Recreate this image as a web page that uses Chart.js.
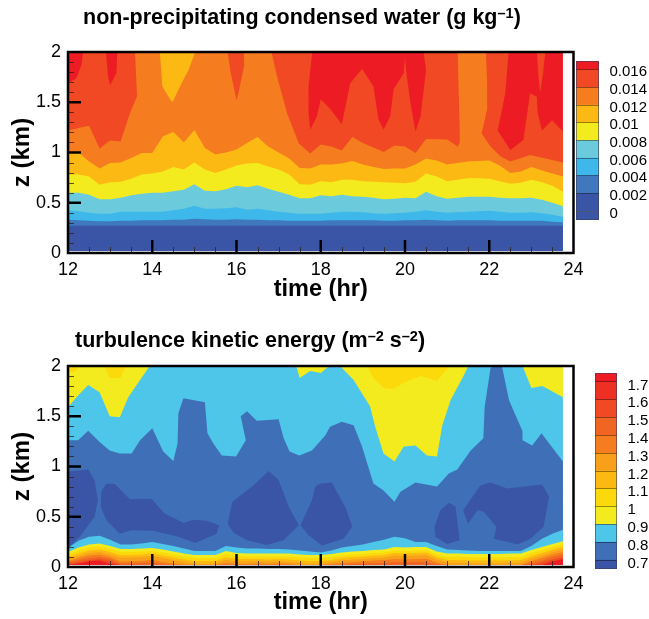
<!DOCTYPE html>
<html>
<head>
<meta charset="utf-8">
<script src="https://cdn.jsdelivr.net/npm/chart.js@4"></script>
<style>
  body { margin: 0; background: #fff; }
  canvas { position: absolute; }
</style>
</head>
<body>
<canvas id="qnChart" style="left:0;top:0"></canvas>
<canvas id="qnBar" style="left:560px;top:50px"></canvas>
<canvas id="tkeChart" style="left:0;top:310px"></canvas>
<canvas id="tkeBar" style="left:580px;top:362px"></canvas>
<script>
// output times, every 15 min
const times = [12,12.25,12.5,12.75,13,13.25,13.5,13.75,14,14.25,14.5,14.75,15,15.25,15.5,15.75,16,16.25,16.5,16.75,17,17.25,17.5,17.75,18,18.25,18.5,18.75,19,19.25,19.5,19.75,20,20.25,20.5,20.75,21,21.25,21.5,21.75,22,22.25,22.5,22.75,23,23.25,23.5,23.75];
const fullTimes = [12, 23.75];
const fullTop = [2, 2];
const baseZ = 0.02;

// condensed water: contour heights (km) per level
const qn002 = [.27,.27,.27,.27,.27,.27,.27,.27,.27,.27,.27,.27,.27,.27,.27,.27,.27,.27,.27,.27,.27,.27,.27,.27,.27,.27,.27,.27,.27,.27,.27,.27,.27,.27,.27,.27,.27,.27,.27,.27,.27,.27,.27,.27,.27,.27,.27,.27];
const qn004 = [.33,.325,.32,.315,.315,.32,.32,.325,.325,.325,.33,.33,.34,.335,.33,.33,.335,.33,.33,.325,.325,.32,.32,.32,.32,.325,.325,.325,.325,.325,.32,.32,.325,.325,.33,.325,.32,.325,.325,.325,.325,.32,.32,.32,.32,.32,.31,.305];
const qn006 = [.425,.415,.40,.39,.39,.41,.41,.41,.41,.41,.425,.44,.47,.44,.44,.445,.455,.43,.44,.425,.41,.40,.39,.39,.39,.40,.41,.41,.405,.395,.39,.395,.40,.41,.425,.41,.40,.405,.41,.415,.42,.41,.40,.40,.405,.395,.38,.36];
const qn008 = [.60,.60,.58,.535,.535,.55,.575,.59,.60,.60,.615,.63,.685,.62,.615,.635,.67,.655,.675,.64,.61,.58,.545,.545,.575,.565,.58,.565,.56,.55,.535,.54,.55,.545,.61,.565,.54,.55,.56,.56,.56,.55,.545,.545,.55,.53,.50,.465];
const qn010 = [.78,.78,.76,.68,.705,.71,.74,.78,.79,.81,.855,.83,.90,.83,.795,.83,.87,.89,.895,.86,.83,.78,.685,.68,.715,.705,.73,.73,.715,.71,.705,.70,.695,.71,.79,.76,.715,.73,.745,.745,.74,.715,.69,.70,.73,.705,.67,.61];
const qn012 = [.995,1,.91,.84,.895,.90,.945,.995,.995,1.16,1.205,1.10,1.225,1.045,.98,1,1.03,1.095,1.155,1.06,1,.94,.845,.84,.88,.88,.89,.915,.88,.855,.835,.84,.84,.88,.94,.92,.88,.895,.91,.915,.92,.87,.795,.81,.855,.82,.79,.76];
const qn014Times = [12,12.25,12.5,12.75,13,13.25,13.47,13.64,13.59,15.79,15.85,16,16.06,16.19,16.18,16.83,16.96,17.2,17.48,17.75,18,18.25,18.5,18.75,19,19.5,19.75,20,20.25,20.5,21,21.25,21.3,21.3,21.25,21.92,21.95,21.95,21.82,22.03,22.27,22.5,22.97,23.75];
const qn014 = [1.22,1.245,1.265,1.04,1.12,1.11,1.39,1.56,2,2,1.82,1.52,1.62,1.88,2,2,1.76,1.39,1.09,.99,1.08,1.06,1.02,1.155,1.095,1.005,1.07,1.06,.995,1.135,1.13,1.06,1.1,1.2,2,2,1.7,1.43,1.19,1.06,.96,.91,.975,.90];
const qn016Times = [12,12.2,12.32,12.36,12.9,12.95,13,13.15,13.17,17.8,17.71,17.71,17.75,17.91,18,18.23,18.5,18.7,18.98,19.25,19.37,19.49,19.65,19.73,19.97,20,20.03,20.13,20.25,20.37,20.5,20.44,22.46,22.38,22.27,22.2,22.5,22.81,22.97,23.13,23.15,23.25,23.49,23.75];
const qn016 = [1.69,1.74,1.87,2,2,1.76,1.67,1.79,2,2,1.66,1.39,1.23,1.36,1.53,1.43,1.28,1.69,1.83,1.66,1.33,1.23,1.36,1.63,1.79,1.95,1.8,1.49,1.21,1.36,1.82,2,2,1.59,1.36,1.22,1.025,1.125,1.59,1.555,1.39,1.22,1.32,1.21];
// pockets hanging from the top of the domain
const qnNotchTimes = [23.13,23.17,23.21,23.28,23.33];
const qnNotch = [2,1.75,1.595,1.8,2];
const qnAmberTimes = [14.18,14.24,14.38,14.48,14.66,14.86,15.02];
const qnAmber = [2,1.66,1.56,1.5,1.66,1.82,2];

// TKE: contour heights (km)
const tkeYellowTimes = [12,12.2,12.48,12.75,12.99,13.23,13.43,13.71,13.94,17.42,17.5,17.75,18,18.2,18.46,18.78,19.17,19.29,19.49,19.75,19.97,20.25,20.52,20.76,20.88,21.08,21.4,21.5,22.79,23,23.26,23.75];
const tkeYellow = [1.59,1.69,1.81,1.74,1.5,1.49,1.69,1.86,2,2,1.88,1.95,1.93,2,2,1.86,1.6,1.4,1.13,1.05,1.2,1.21,1.11,1.1,1.4,1.66,1.91,2,2,1.78,1.8,1.69];
const tkeGoldTimes = [12,12.15,12.28,12.87,12.99,13.25,13.37,19.1,19.25,19.49,19.73,20,20.37,20.76,21.06];
const tkeGold = [1.94,1.94,2,2,1.88,1.88,2,2,1.88,1.78,1.77,1.84,1.9,1.85,2];
const tkeBlueTimes = [12,12.24,12.48,12.75,12.99,13.23,13.51,13.71,14,14.26,14.5,14.6,14.62,14.74,15.25,15.31,15.45,15.65,15.99,16.22,16.1,16.25,16.48,17,17.12,17.26,17.49,17.79,18.11,18.22,18.5,18.78,18.98,19.25,19.49,19.75,19.89,20.25,20.76,21.04,21.24,21.56,21.86,21.89,22.03,22.1,22.3,22.47,22.79,22.79,23.02,23.24,23.75];
const tkeBlue = [1.26,1.26,1.355,1.245,1.16,1.13,1.13,1.26,1.38,1.15,1.055,1.23,1.53,1.68,1.64,1.33,1.23,1.11,1.1,1.26,1.5,1.55,1.455,1.47,1.28,1.15,1.11,1.16,1.31,1.395,1.445,1.41,1.2,.83,.76,.65,.75,.84,.80,.93,.97,1.16,1.28,1.59,1.98,2,2,1.66,1.35,1.26,1.21,1.33,1.05];

// closed low-TKE pockets
const pocket1Times = [12,12.48,12.63,12.71,12.63,12.28,12];
const pocket1 = [.95,.97,.865,.665,.5,.3,.19];
const pocket2Times = [12.79,12.91,13.11,13.47,13.98,14.3,14.74,14.98,15.29,15.59,15.53,15.02,14.62,14.02,13.51,13.23,12.91,12.78,12.79];
const pocket2 = [.75,.83,.825,.675,.68,.53,.44,.47,.46,.415,.33,.24,.3,.36,.365,.33,.465,.6,.75];
const pocket3Times = [15.79,15.9,16.4,16.76,17,17.24,17.48,17.12,16.72,16.25,15.93,15.79];
const pocket3 = [.43,.65,.81,.955,.865,.6,.415,.265,.22,.265,.34,.43];
const pocket4Times = [17.52,17.79,17.87,18,18.26,18.58,18.75,18.54,18.03,17.71,17.52];
const pocket4 = [.415,.665,.8,.83,.84,.6,.4,.28,.215,.315,.415];
const pocket5Times = [20.7,20.84,21.04,21.2,21.3,21,20.72,20.7];
const pocket5 = [.4,.565,.64,.6,.265,.23,.3,.4];
const pocket6Times = [21.38,21.79,22.03,22.43,23.26,23.42,23.29,22.98,22.67,22.11,22.17,21.87,21.72,21.5,21.38];
const pocket6 = [.565,.81,.84,.78,.82,.7,.4,.28,.225,.28,.4,.55,.565,.43,.565];

// near surface TKE bands
const tkeCyanLow = [.19,.26,.30,.31,.27,.225,.225,.235,.25,.23,.21,.185,.16,.16,.16,.21,.195,.185,.185,.18,.18,.175,.165,.155,.145,.165,.195,.21,.225,.25,.27,.30,.285,.25,.25,.21,.175,.17,.165,.16,.16,.16,.16,.16,.21,.28,.33,.37];
const tke10 = [.15,.195,.225,.235,.21,.18,.18,.185,.19,.175,.155,.135,.12,.12,.12,.16,.14,.135,.135,.135,.135,.135,.125,.12,.12,.13,.145,.155,.16,.17,.175,.20,.195,.20,.20,.155,.135,.135,.13,.13,.13,.13,.135,.135,.17,.20,.23,.255];
const tke11 = [.125,.165,.195,.205,.18,.15,.15,.155,.16,.145,.125,.105,.09,.09,.09,.13,.11,.105,.105,.105,.105,.105,.095,.09,.09,.10,.115,.125,.13,.14,.145,.165,.16,.165,.17,.125,.10,.105,.10,.095,.095,.095,.10,.10,.14,.17,.20,.225];
const tke12 = [.10,.135,.165,.175,.15,.12,.12,.125,.135,.115,.095,.075,.06,.06,.06,.095,.08,.08,.08,.075,.08,.075,.065,.06,.06,.07,.09,.10,.105,.115,.12,.14,.135,.14,.145,.10,.07,.07,.065,.065,.065,.065,.065,.07,.11,.14,.175,.20];
const tke13 = [.08,.11,.14,.15,.125,.095,.095,.10,.11,.09,.07,.05,.035,.03,.035,.07,.055,.055,.055,.055,.055,.05,.04,.03,.035,.05,.065,.075,.08,.09,.095,.115,.11,.115,.12,.075,.045,.04,.04,.035,.035,.035,.04,.045,.085,.115,.15,.175];
const tke14 = [.06,.09,.115,.125,.10,.055,.055,.06,.07,.05,.035,.025,.02,.02,.02,.04,.03,.03,.035,.03,.035,.03,.02,.02,.02,.03,.04,.05,.055,.065,.07,.08,.075,.08,.085,.045,.02,.02,.02,.02,.02,.02,.02,.02,.06,.09,.125,.15];
const tke15 = [.045,.07,.09,.10,.08,.035,.035,.04,.045,.03,.02,.02,.02,.02,.02,.02,.02,.02,.02,.02,.02,.02,.02,.02,.02,.02,.02,.03,.035,.04,.04,.05,.045,.05,.05,.025,.02,.02,.02,.02,.02,.02,.02,.02,.04,.065,.10,.125];
const tke16 = [.03,.05,.07,.08,.06,.02,.02,.02,.02,.02,.02,.02,.02,.02,.02,.02,.02,.02,.02,.02,.02,.02,.02,.02,.02,.02,.02,.02,.02,.02,.02,.02,.02,.02,.02,.02,.02,.02,.02,.02,.02,.02,.02,.02,.02,.045,.075,.10];
const tke17 = [.02,.035,.055,.065,.03,.02,.02,.02,.02,.02,.02,.02,.02,.02,.02,.02,.02,.02,.02,.02,.02,.02,.02,.02,.02,.02,.02,.02,.02,.02,.02,.02,.02,.02,.02,.02,.02,.02,.02,.02,.02,.02,.02,.02,.02,.02,.055,.08];

// colorbars
const qnLevels = [0,.002,.004,.006,.008,.01,.012,.014,.016];
const qnEdges = [-.001,0,.002,.004,.006,.008,.01,.012,.014,.016,.017];
const qnColors = ['#3a55a5','#3a55a5','#3f78bd','#3eb7ea','#6bcbdc','#f3eb1e','#fdb913','#f57d20','#f04923','#ed1c24'];
const tkeLevels = [.7,.8,.9,1,1.1,1.2,1.3,1.4,1.5,1.6,1.7];
const tkeEdges = [.65,.7,.8,.9,1,1.1,1.2,1.3,1.4,1.5,1.6,1.7,1.75];
const tkeColors = ['#3a55a5','#3f70b7','#4ec6ea','#f3eb1e','#fcd90a','#fdb913','#f9a01b','#f57d20','#f16522','#f04923','#ee2f24','#ed1c24'];

const xMajor = [14,16,18,20,22];
const xMinor = [12.5,13,13.5,14.5,15,15.5,16.5,17,17.5,18.5,19,19.5,20.5,21,21.5,22.5,23,23.5];
const zMajor = [.5,1,1.5];
const zMinor = [.1,.2,.3,.4,.6,.7,.8,.9,1.1,1.2,1.3,1.4,1.6,1.7,1.8,1.9];

// titles, split where the exponents are raised
const qnTitle = [['non-precipitating condensed water (g kg', false], ['\u20131', true], [')', false]];
const tkeTitle = [['turbulence kinetic energy (m', false], ['\u20132', true], [' s', false], ['\u20132', true], [')', false]];

const FONT = "'Liberation Sans', Arial, sans-serif";

function layer(xs, ys, color, fill) {
  return {
    data: xs.map((x, i) => ({ x: x, y: ys[i] })),
    showLine: true,
    pointRadius: 0,
    borderWidth: 0,
    tension: 0,
    backgroundColor: color,
    borderColor: color,
    fill: fill
  };
}

// paint order = array order, later layers on top
function stackOrder(sets) {
  sets.forEach((d, i) => { d.order = sets.length - i; });
  return sets;
}

// Tecplot style frame with inward ticks, plus the title with raised exponents
const frame = {
  id: 'frame',
  afterDatasetsDraw(chart, args, opts) {
    const { ctx, chartArea: a, scales: { x, y } } = chart;
    ctx.save();
    ctx.strokeStyle = 'rgba(50,30,20,0.75)';
    ctx.lineWidth = 1;
    xMinor.forEach(v => {
      const p = Math.round(x.getPixelForValue(v)) + 0.5;
      ctx.beginPath(); ctx.moveTo(p, a.bottom); ctx.lineTo(p, a.bottom - 6); ctx.stroke();
    });
    zMinor.forEach(v => {
      const p = Math.round(y.getPixelForValue(v)) + 0.5;
      ctx.beginPath(); ctx.moveTo(a.left, p); ctx.lineTo(a.left + 6, p); ctx.stroke();
    });
    ctx.strokeStyle = '#000';
    ctx.lineWidth = 2.5;
    xMajor.forEach(v => {
      const p = x.getPixelForValue(v);
      ctx.beginPath(); ctx.moveTo(p, a.bottom); ctx.lineTo(p, a.bottom - 13); ctx.stroke();
    });
    zMajor.forEach(v => {
      const p = y.getPixelForValue(v);
      ctx.beginPath(); ctx.moveTo(a.left, p); ctx.lineTo(a.left + 13, p); ctx.stroke();
    });
    ctx.strokeRect(a.left, a.top, a.right - a.left, a.bottom - a.top);

    let tx = opts.titleX;
    ctx.fillStyle = '#000';
    ctx.textBaseline = 'alphabetic';
    opts.titleParts.forEach(([text, sup]) => {
      ctx.font = 'bold ' + (sup ? 14.5 : 21.5) + 'px ' + FONT;
      ctx.fillText(text, tx, opts.titleY - (sup ? 6 : 0));
      tx += ctx.measureText(text).width;
    });
    ctx.restore();
  }
};

function contourChart(id, w, h, xHeight, titleParts, titleX, titleY, plotTop, sets) {
  const c = document.getElementById(id);
  c.width = w; c.height = h;
  return new Chart(c, {
    type: 'scatter',
    data: { datasets: stackOrder(sets) },
    plugins: [frame],
    options: {
      responsive: false,
      animation: false,
      layout: { padding: { right: w - 573.5, top: plotTop } },
      plugins: {
        legend: { display: false },
        tooltip: { enabled: false },
        frame: { titleParts: titleParts, titleX: titleX, titleY: titleY }
      },
      scales: {
        x: {
          type: 'linear', min: 12, max: 24,
          afterFit(s) { s.height = xHeight; },
          grid: { display: false, drawTicks: false },
          border: { display: false },
          ticks: { stepSize: 2, color: '#000', padding: 6, maxRotation: 0, font: { family: FONT, size: 18 } },
          title: { display: true, text: 'time (hr)', color: '#000', padding: { top: 0, bottom: 1 }, font: { family: FONT, size: 23.5, weight: 'bold' } }
        },
        y: {
          type: 'linear', min: 0, max: 2,
          afterFit(s) { s.width = 68; s.paddingTop = 0; s.paddingBottom = 0; },
          grid: { display: false, drawTicks: false },
          border: { display: false },
          ticks: { stepSize: 0.5, color: '#000', padding: 7, font: { family: FONT, size: 18 }, callback: v => String(v) },
          title: { display: true, text: 'z (km)', color: '#000', padding: { top: 8, bottom: 0 }, font: { family: FONT, size: 24, weight: 'bold' } }
        }
      }
    }
  });
}

function colorBar(id, w, h, left, top, bottom, barRight, edges, colors, levels, labelOffset) {
  const c = document.getElementById(id);
  c.width = w; c.height = h;
  return new Chart(c, {
    type: 'bar',
    data: {
      labels: ['level'],
      datasets: colors.map((col, i) => ({
        data: [[edges[i], edges[i + 1]]],
        backgroundColor: col,
        borderWidth: 0,
        grouped: false,
        barPercentage: 1,
        categoryPercentage: 1
      }))
    },
    plugins: [{
      id: 'barBox',
      afterDraw(chart) {
        const { ctx, chartArea: a } = chart;
        ctx.save();
        ctx.strokeStyle = 'rgba(60,60,90,0.6)';
        ctx.strokeRect(a.left + 0.5, a.top + 0.5, a.right - a.left - 1, a.bottom - a.top - 1);
        ctx.restore();
      }
    }],
    options: {
      responsive: false,
      animation: false,
      layout: { padding: { left: left, top: top, bottom: bottom } },
      plugins: { legend: { display: false }, tooltip: { enabled: false } },
      scales: {
        x: { display: false },
        y: {
          position: 'right',
          min: edges[0], max: edges[edges.length - 1],
          afterBuildTicks(s) { s.ticks = levels.map(v => ({ value: v })); },
          afterFit(s) { s.width = w - barRight; s.paddingTop = 0; s.paddingBottom = 0; },
          grid: { color: 'rgba(0,0,0,0.4)', z: 1, drawTicks: false },
          border: { display: false },
          ticks: { color: '#000', padding: 10.5, autoSkip: false, labelOffset: labelOffset, font: { family: FONT, size: 15 }, callback: v => String(+v.toFixed(3)) }
        }
      }
    }
  });
}

contourChart('qnChart', 649, 305, 52, qnTitle, 83, 23.5, 52, [
  layer(fullTimes, fullTop, '#ed1c24', { value: baseZ }),
  layer(qn016Times, qn016, '#f04923', { value: baseZ }),
  layer(qnNotchTimes, qnNotch, '#f04923', { value: 2 }),
  layer(qn014Times, qn014, '#f57d20', { value: baseZ }),
  layer(qnAmberTimes, qnAmber, '#fdb913', { value: 2 }),
  layer(times, qn012, '#fdb913', { value: baseZ }),
  layer(times, qn010, '#f3eb1e', { value: baseZ }),
  layer(times, qn008, '#6bcbdc', { value: baseZ }),
  layer(times, qn006, '#3eb7ea', { value: baseZ }),
  layer(times, qn004, '#3f78bd', { value: baseZ }),
  layer(times, qn002, '#3a55a5', { value: baseZ })
]);

contourChart('tkeChart', 649, 308, 51, tkeTitle, 75, 36.5, 56, [
  layer(fullTimes, fullTop, '#4ec6ea', { value: baseZ }),
  layer(tkeYellowTimes, tkeYellow, '#f3eb1e', { value: 2 }),
  layer(tkeGoldTimes, tkeGold, '#fcd90a', { value: 2 }),
  layer(tkeBlueTimes, tkeBlue, '#3f70b7', { value: baseZ }),
  layer(pocket1Times, pocket1, '#3a55a5', 'shape'),
  layer(pocket2Times, pocket2, '#3a55a5', 'shape'),
  layer(pocket3Times, pocket3, '#3a55a5', 'shape'),
  layer(pocket4Times, pocket4, '#3a55a5', 'shape'),
  layer(pocket5Times, pocket5, '#3a55a5', 'shape'),
  layer(pocket6Times, pocket6, '#3a55a5', 'shape'),
  layer(times, tkeCyanLow, '#4ec6ea', { value: baseZ }),
  layer(times, tke10, '#f3eb1e', { value: baseZ }),
  layer(times, tke11, '#fcd90a', { value: baseZ }),
  layer(times, tke12, '#fdb913', { value: baseZ }),
  layer(times, tke13, '#f9a01b', { value: baseZ }),
  layer(times, tke14, '#f57d20', { value: baseZ }),
  layer(times, tke15, '#f16522', { value: baseZ }),
  layer(times, tke16, '#f04923', { value: baseZ }),
  layer(times, tke17, '#ed1c24', { value: baseZ })
]);

colorBar('qnBar', 89, 180, 16, 11, 10, 599 - 560, qnEdges, qnColors, qnLevels, 2.5);
colorBar('tkeBar', 69, 215, 15, 11, 8, 617 - 580, tkeEdges, tkeColors, tkeLevels, 3.5);
</script>
</body>
</html>
